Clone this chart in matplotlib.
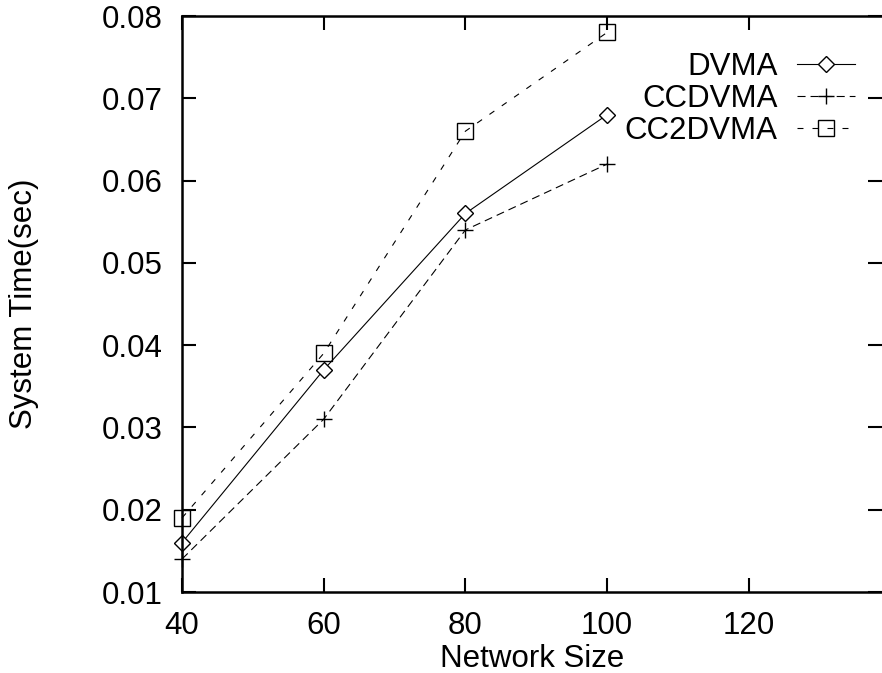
import matplotlib
matplotlib.use("Agg")
import matplotlib.pyplot as plt
from matplotlib.ticker import FormatStrFormatter
from matplotlib.legend_handler import HandlerLine2D
import numpy as np

plt.rcParams['font.family'] = ['Liberation Sans', 'DejaVu Sans']
plt.rcParams['lines.scale_dashes'] = False

network_size = [40, 60, 80, 100]
dvma = [0.016, 0.037, 0.056, 0.068]
ccdvma = [0.014, 0.031, 0.054, 0.062]
cc2dvma = [0.019, 0.039, 0.066, 0.078]
series_labels = ["DVMA", "CCDVMA", "CC2DVMA"]
x_ticks = [40, 60, 80, 100, 120]
y_ticks = [0.01, 0.02, 0.03, 0.04, 0.05, 0.06, 0.07, 0.08]


class LeftMarkerHandler(HandlerLine2D):
    def get_xdata(self, legend, xdescent, ydescent, width, height, fontsize):
        xdata = np.array([-xdescent, -xdescent + width])
        xdata_marker = np.array([-xdescent + 0.33 * width])
        return xdata, xdata_marker


fig = plt.figure(figsize=(8.82, 6.73), dpi=100)
ax = fig.add_axes([182/882, 81/673, 1 - 182/882, (592-16)/673])

fs = 22.5
lw = 0.8
l1, = ax.plot(network_size, dvma, color='black', lw=lw, linestyle='-',
              marker='D', ms=8.4, mfc='white', mec='black', mew=1.0,
              label=series_labels[0], clip_on=False)
l2, = ax.plot(network_size, ccdvma, color='black', lw=lw, linestyle=(0, (5.8, 3.6)),
              marker='+', ms=12, mec='black', mew=1.0,
              label=series_labels[1], clip_on=False)
l3, = ax.plot(network_size, cc2dvma, color='black', lw=lw, linestyle=(0, (4.3, 6.5)),
              marker='s', ms=11.5, mfc='none', mec='black', mew=1.0,
              label=series_labels[2], clip_on=False)

ax.set_xlim(40, 138.8)
ax.set_ylim(0.01, 0.08)
ax.set_xticks(x_ticks)
ax.set_yticks(y_ticks)
ax.yaxis.set_major_formatter(FormatStrFormatter('%.2f'))
ax.tick_params(direction='in', length=10, width=1.5, top=True, right=True,
               labelsize=fs, pad=14)
for s in ['left', 'bottom', 'top']:
    ax.spines[s].set_linewidth(1.8)
ax.spines['right'].set_visible(False)

ax.set_xlabel("Network Size", fontsize=fs, labelpad=1.5)
ax.set_ylabel("System Time(sec)", fontsize=fs, labelpad=45)

hm = {l: LeftMarkerHandler() for l in (l1, l2, l3)}
leg = ax.legend(loc='upper right', bbox_to_anchor=(855/882, 1 - 52/673),
                bbox_transform=fig.transFigure, frameon=False, markerfirst=False,
                fontsize=fs, handlelength=1.85, handletextpad=0.62,
                labelspacing=0.07, borderpad=0, borderaxespad=0, numpoints=1,
                handler_map=hm)

fig.savefig("out.png", dpi=100)
